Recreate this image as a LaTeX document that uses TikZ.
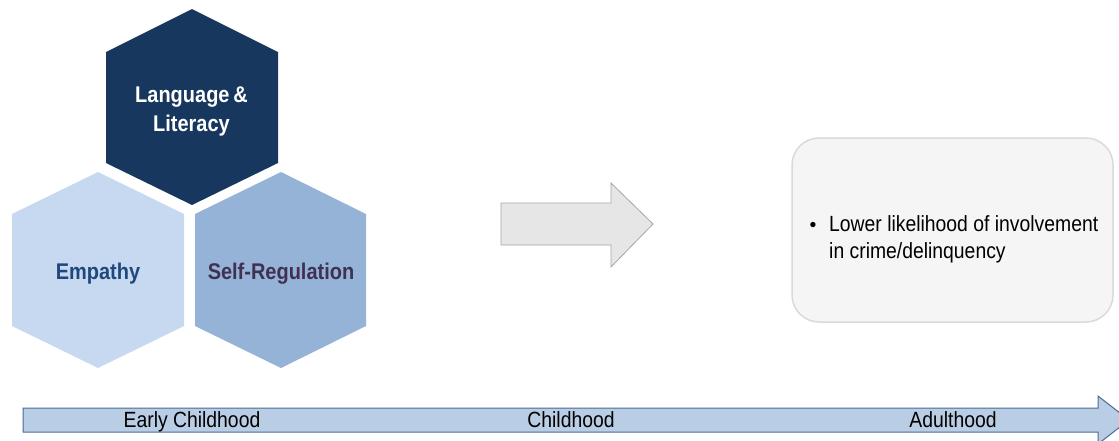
\documentclass[tikz,border=0pt]{standalone}
\usepackage{fontspec}
\setmainfont{Liberation Sans}
\newfontfamily\condsans[FakeStretch=0.88]{Liberation Sans}
\definecolor{navy}{HTML}{17375E}
\definecolor{hexlight}{HTML}{C6D9F1}
\definecolor{hexmid}{HTML}{95B3D7}
\definecolor{emptext}{HTML}{1F497D}
\definecolor{srtext}{HTML}{403152}
\definecolor{arrfill}{HTML}{E6E6E6}
\definecolor{arrline}{HTML}{A6A6A6}
\definecolor{boxfill}{HTML}{F5F5F5}
\definecolor{boxline}{HTML}{DADADA}
\definecolor{tlfill}{HTML}{B9CDE5}
\definecolor{tlline}{HTML}{4A6A98}
\tikzset{
  hexlabel/.style={anchor=base, font=\condsans\fontsize{22.7}{26}\selectfont\bfseries, inner sep=0pt},
  bodytext/.style={anchor=base west, font=\condsans\fontsize{22}{25}\selectfont, inner sep=0pt},
  tltext/.style={anchor=base, font=\condsans\fontsize{22}{25}\selectfont, inner sep=0pt}
}
\begin{document}
\begin{tikzpicture}[x=1pt,y=-1pt]
\useasboundingbox (0,0) rectangle (1119,440);
% hexagons
\fill[navy] (192,9) -- (278,52) -- (278,163) -- (192,205) -- (106,163) -- (106,52) -- cycle;
\fill[hexlight] (98,172) -- (184,214) -- (184,326) -- (98,368) -- (12,326) -- (12,214) -- cycle;
\fill[hexmid] (281,172) -- (366,214) -- (366,326) -- (281,368) -- (195,326) -- (195,214) -- cycle;
\node[hexlabel, text=white] (lang) at (191.5,102) {Language\,\&};
\node[hexlabel, text=white] (lit) at (191.5,131) {Literacy};
\node[hexlabel, text=emptext] (emp) at (98,279) {Empathy};
\node[hexlabel, text=srtext] (sr) at (281,279) {Self-Regulation};
% middle arrow
\draw[draw=arrline, fill=arrfill, line width=0.8pt, line join=miter]
  (501,203) -- (611,203) -- (611,183) -- (653,224) -- (611,267) -- (611,245) -- (501,245) -- cycle;
% outcome box
\draw[draw=boxline, fill=boxfill, line width=1.5pt, rounded corners=27pt]
  (792,138) rectangle (1113,322);
\node[anchor=base, font=\fontsize{19.5}{23}\selectfont, inner sep=0pt] (bul) at (813,231) {•};
\node[bodytext] (l1) at (829,231) {Lower likelihood of involvement};
\node[bodytext] (l2) at (829,258) {in crime/delinquency};
% timeline arrow
\draw[draw=tlline, fill=tlfill, line width=1pt, line join=miter]
  (23,408) -- (1098,408) -- (1098,396) -- (1129,420) -- (1098,444) -- (1098,432) -- (23,432) -- cycle;
\node[tltext] (ec) at (192,427) {Early Childhood};
\node[tltext] (ch) at (571,427) {Childhood};
\node[tltext] (ad) at (953,427) {Adulthood};
\end{tikzpicture}
\end{document}
